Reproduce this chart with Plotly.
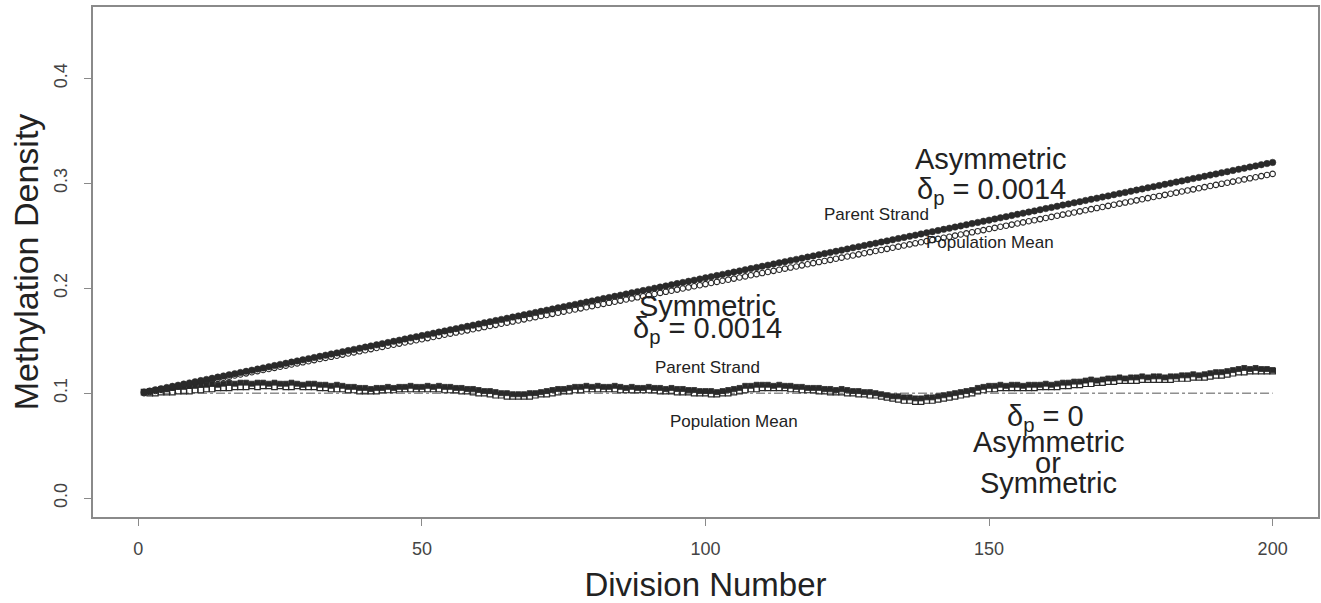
import plotly.graph_objects as go

divisions = list(range(1, 201))

# Asymmetric / symmetric delta_p = 0.0014 : parent strand (filled circles)
asym_parent = [
    0.1010, 0.1021, 0.1032, 0.1043, 0.1054, 0.1065, 0.1076, 0.1087, 0.1098, 0.1109,
    0.1120, 0.1131, 0.1142, 0.1153, 0.1164, 0.1175, 0.1186, 0.1197, 0.1208, 0.1219,
    0.1230, 0.1241, 0.1252, 0.1263, 0.1274, 0.1285, 0.1296, 0.1307, 0.1318, 0.1329,
    0.1340, 0.1351, 0.1362, 0.1373, 0.1384, 0.1395, 0.1406, 0.1417, 0.1428, 0.1439,
    0.1450, 0.1461, 0.1472, 0.1483, 0.1494, 0.1505, 0.1516, 0.1527, 0.1538, 0.1549,
    0.1560, 0.1571, 0.1582, 0.1593, 0.1604, 0.1615, 0.1626, 0.1637, 0.1648, 0.1659,
    0.1670, 0.1681, 0.1692, 0.1703, 0.1714, 0.1725, 0.1736, 0.1747, 0.1758, 0.1769,
    0.1780, 0.1791, 0.1802, 0.1813, 0.1824, 0.1835, 0.1846, 0.1857, 0.1868, 0.1879,
    0.1890, 0.1901, 0.1912, 0.1923, 0.1934, 0.1945, 0.1956, 0.1967, 0.1978, 0.1989,
    0.2000, 0.2011, 0.2022, 0.2033, 0.2044, 0.2055, 0.2066, 0.2077, 0.2088, 0.2099,
    0.2110, 0.2121, 0.2132, 0.2143, 0.2154, 0.2165, 0.2176, 0.2187, 0.2198, 0.2209,
    0.2220, 0.2231, 0.2242, 0.2253, 0.2264, 0.2275, 0.2286, 0.2297, 0.2308, 0.2319,
    0.2330, 0.2341, 0.2352, 0.2363, 0.2374, 0.2385, 0.2396, 0.2407, 0.2418, 0.2429,
    0.2440, 0.2451, 0.2462, 0.2473, 0.2484, 0.2495, 0.2506, 0.2517, 0.2528, 0.2539,
    0.2550, 0.2561, 0.2572, 0.2583, 0.2594, 0.2605, 0.2616, 0.2627, 0.2638, 0.2649,
    0.2660, 0.2671, 0.2682, 0.2693, 0.2704, 0.2715, 0.2726, 0.2737, 0.2748, 0.2759,
    0.2770, 0.2781, 0.2792, 0.2803, 0.2814, 0.2825, 0.2836, 0.2847, 0.2858, 0.2869,
    0.2880, 0.2891, 0.2902, 0.2913, 0.2924, 0.2935, 0.2946, 0.2957, 0.2968, 0.2979,
    0.2990, 0.3001, 0.3012, 0.3023, 0.3034, 0.3045, 0.3056, 0.3067, 0.3078, 0.3089,
    0.3100, 0.3111, 0.3122, 0.3133, 0.3144, 0.3155, 0.3166, 0.3177, 0.3188, 0.3199,
]

# delta_p = 0.0014 : population mean (open circles)
asym_mean = [
    0.10000, 0.10105, 0.10210, 0.10315, 0.10420, 0.10525, 0.10630, 0.10735, 0.10840, 0.10945,
    0.11050, 0.11155, 0.11260, 0.11365, 0.11470, 0.11575, 0.11680, 0.11785, 0.11890, 0.11995,
    0.12100, 0.12205, 0.12310, 0.12415, 0.12520, 0.12625, 0.12730, 0.12835, 0.12940, 0.13045,
    0.13150, 0.13255, 0.13360, 0.13465, 0.13570, 0.13675, 0.13780, 0.13885, 0.13990, 0.14095,
    0.14200, 0.14305, 0.14410, 0.14515, 0.14620, 0.14725, 0.14830, 0.14935, 0.15040, 0.15145,
    0.15250, 0.15355, 0.15460, 0.15565, 0.15670, 0.15775, 0.15880, 0.15985, 0.16090, 0.16195,
    0.16300, 0.16405, 0.16510, 0.16615, 0.16720, 0.16825, 0.16930, 0.17035, 0.17140, 0.17245,
    0.17350, 0.17455, 0.17560, 0.17665, 0.17770, 0.17875, 0.17980, 0.18085, 0.18190, 0.18295,
    0.18400, 0.18505, 0.18610, 0.18715, 0.18820, 0.18925, 0.19030, 0.19135, 0.19240, 0.19345,
    0.19450, 0.19555, 0.19660, 0.19765, 0.19870, 0.19975, 0.20080, 0.20185, 0.20290, 0.20395,
    0.20500, 0.20605, 0.20710, 0.20815, 0.20920, 0.21025, 0.21130, 0.21235, 0.21340, 0.21445,
    0.21550, 0.21655, 0.21760, 0.21865, 0.21970, 0.22075, 0.22180, 0.22285, 0.22390, 0.22495,
    0.22600, 0.22705, 0.22810, 0.22915, 0.23020, 0.23125, 0.23230, 0.23335, 0.23440, 0.23545,
    0.23650, 0.23755, 0.23860, 0.23965, 0.24070, 0.24175, 0.24280, 0.24385, 0.24490, 0.24595,
    0.24700, 0.24805, 0.24910, 0.25015, 0.25120, 0.25225, 0.25330, 0.25435, 0.25540, 0.25645,
    0.25750, 0.25855, 0.25960, 0.26065, 0.26170, 0.26275, 0.26380, 0.26485, 0.26590, 0.26695,
    0.26800, 0.26905, 0.27010, 0.27115, 0.27220, 0.27325, 0.27430, 0.27535, 0.27640, 0.27745,
    0.27850, 0.27955, 0.28060, 0.28165, 0.28270, 0.28375, 0.28480, 0.28585, 0.28690, 0.28795,
    0.28900, 0.29005, 0.29110, 0.29215, 0.29320, 0.29425, 0.29530, 0.29635, 0.29740, 0.29845,
    0.29950, 0.30055, 0.30160, 0.30265, 0.30370, 0.30475, 0.30580, 0.30685, 0.30790, 0.30895,
]

# delta_p = 0 : parent strand (filled squares)
zero_parent = [
    0.101, 0.102, 0.103, 0.104, 0.104, 0.105, 0.106, 0.106, 0.107, 0.107,
    0.108, 0.108, 0.109, 0.108, 0.109, 0.110, 0.109, 0.110, 0.110, 0.109,
    0.110, 0.110, 0.109, 0.110, 0.109, 0.109, 0.110, 0.109, 0.108, 0.109,
    0.109, 0.108, 0.108, 0.107, 0.108, 0.107, 0.106, 0.106, 0.105, 0.105,
    0.104, 0.105, 0.105, 0.106, 0.105, 0.106, 0.106, 0.107, 0.106, 0.106,
    0.107, 0.106, 0.107, 0.106, 0.106, 0.105, 0.105, 0.104, 0.104, 0.103,
    0.102, 0.102, 0.101, 0.100, 0.100, 0.099, 0.099, 0.099, 0.100, 0.100,
    0.101, 0.102, 0.103, 0.104, 0.104, 0.105, 0.106, 0.106, 0.107, 0.106,
    0.107, 0.106, 0.106, 0.107, 0.106, 0.105, 0.106, 0.105, 0.105, 0.106,
    0.105, 0.105, 0.104, 0.105, 0.104, 0.104, 0.103, 0.103, 0.102, 0.102,
    0.102, 0.101, 0.102, 0.103, 0.104, 0.105, 0.107, 0.107, 0.108, 0.108,
    0.108, 0.107, 0.108, 0.107, 0.107, 0.106, 0.106, 0.105, 0.105, 0.105,
    0.104, 0.104, 0.103, 0.104, 0.103, 0.102, 0.102, 0.101, 0.101, 0.100,
    0.099, 0.098, 0.097, 0.097, 0.096, 0.096, 0.095, 0.095, 0.096, 0.096,
    0.097, 0.098, 0.099, 0.100, 0.101, 0.102, 0.103, 0.105, 0.106, 0.107,
    0.107, 0.108, 0.107, 0.108, 0.108, 0.107, 0.108, 0.108, 0.108, 0.109,
    0.108, 0.109, 0.110, 0.110, 0.111, 0.111, 0.112, 0.113, 0.112, 0.113,
    0.114, 0.114, 0.115, 0.114, 0.115, 0.115, 0.116, 0.115, 0.116, 0.116,
    0.115, 0.116, 0.116, 0.117, 0.117, 0.118, 0.117, 0.118, 0.119, 0.120,
    0.120, 0.121, 0.122, 0.123, 0.124, 0.123, 0.124, 0.123, 0.123, 0.122,
]

# delta_p = 0 : population mean (open squares)
zero_mean = [
    0.101, 0.100, 0.100, 0.101, 0.101, 0.101, 0.102, 0.102, 0.102, 0.103,
    0.103, 0.104, 0.104, 0.105, 0.105, 0.105, 0.106, 0.106, 0.106, 0.107,
    0.106, 0.107, 0.107, 0.106, 0.107, 0.106, 0.106, 0.107, 0.106, 0.106,
    0.106, 0.105, 0.105, 0.104, 0.104, 0.104, 0.103, 0.103, 0.102, 0.102,
    0.102, 0.102, 0.103, 0.103, 0.103, 0.104, 0.104, 0.104, 0.104, 0.104,
    0.104, 0.104, 0.104, 0.103, 0.103, 0.103, 0.102, 0.102, 0.101, 0.100,
    0.100, 0.099, 0.098, 0.098, 0.097, 0.097, 0.097, 0.097, 0.097, 0.098,
    0.099, 0.099, 0.100, 0.101, 0.102, 0.102, 0.103, 0.103, 0.104, 0.104,
    0.104, 0.104, 0.104, 0.104, 0.103, 0.103, 0.103, 0.103, 0.103, 0.103,
    0.103, 0.102, 0.102, 0.102, 0.101, 0.101, 0.101, 0.100, 0.100, 0.100,
    0.099, 0.099, 0.100, 0.100, 0.101, 0.102, 0.103, 0.104, 0.104, 0.105,
    0.105, 0.105, 0.105, 0.105, 0.104, 0.104, 0.103, 0.103, 0.103, 0.102,
    0.102, 0.101, 0.101, 0.101, 0.100, 0.100, 0.099, 0.099, 0.098, 0.098,
    0.097, 0.096, 0.095, 0.094, 0.093, 0.093, 0.092, 0.092, 0.093, 0.093,
    0.094, 0.095, 0.096, 0.097, 0.098, 0.099, 0.100, 0.102, 0.103, 0.104,
    0.104, 0.105, 0.105, 0.105, 0.105, 0.105, 0.105, 0.105, 0.106, 0.106,
    0.106, 0.106, 0.107, 0.107, 0.108, 0.108, 0.109, 0.109, 0.110, 0.110,
    0.111, 0.111, 0.112, 0.112, 0.112, 0.112, 0.113, 0.113, 0.113, 0.113,
    0.113, 0.113, 0.114, 0.114, 0.114, 0.115, 0.115, 0.115, 0.116, 0.117,
    0.117, 0.118, 0.119, 0.120, 0.120, 0.121, 0.121, 0.121, 0.121, 0.121,
]

baseline_x = [1, 200]
baseline_y = [0.1, 0.1]

x_ticks = [0, 50, 100, 150, 200]
y_ticks = [0.0, 0.1, 0.2, 0.3, 0.4]

DARK = "#2a2a2a"
FONT = "Liberation Sans, Arial, sans-serif"

fig = go.Figure()

fig.add_trace(go.Scatter(
    x=baseline_x, y=baseline_y, mode="lines",
    line=dict(color="#555555", width=1, dash="dashdot"),
    hoverinfo="skip", showlegend=False))

fig.add_trace(go.Scatter(
    x=divisions, y=zero_parent, mode="markers",
    marker=dict(symbol="square", size=5, color=DARK,
                line=dict(color=DARK, width=0.8)),
    showlegend=False, name="Parent Strand, δp=0"))

fig.add_trace(go.Scatter(
    x=divisions, y=zero_mean, mode="markers",
    marker=dict(symbol="square-open", size=5.5, color=DARK,
                line=dict(color=DARK, width=1.2)),
    showlegend=False, name="Population Mean, δp=0"))

fig.add_trace(go.Scatter(
    x=divisions, y=asym_mean, mode="markers",
    marker=dict(symbol="circle-open", size=5.5, color=DARK,
                line=dict(color=DARK, width=1.1)),
    showlegend=False, name="Population Mean, δp=0.0014"))

fig.add_trace(go.Scatter(
    x=divisions, y=asym_parent, mode="markers",
    marker=dict(symbol="circle", size=6.5, color=DARK,
                line=dict(color=DARK, width=0.5)),
    showlegend=False, name="Parent Strand, δp=0.0014"))

big = dict(family=FONT, size=29, color="#222222")
small = dict(family=FONT, size=17, color="#222222")

annos = [
    (150.2, 0.323, "Asymmetric", big),
    (150.4, 0.293, "δ<sub>p</sub> = 0.0014", big),
    (130.2, 0.270, "Parent Strand", small),
    (150.2, 0.244, "Population Mean", small),
    (100.3, 0.183, "Symmetric", big),
    (100.3, 0.160, "δ<sub>p</sub> = 0.0014", big),
    (100.3, 0.1247, "Parent Strand", small),
    (105.0, 0.073, "Population Mean", small),
    (160.0, 0.0765, "δ<sub>p</sub> = 0", big),
    (160.4, 0.053, "Asymmetric", big),
    (160.4, 0.033, "or", big),
    (160.4, 0.014, "Symmetric", big),
]
for ax_, ay_, txt, f in annos:
    fig.add_annotation(x=ax_, y=ay_, text=txt, showarrow=False, font=f,
                       xanchor="center", yanchor="middle")

axis_common = dict(
    showgrid=False, zeroline=False, showline=True, mirror=True,
    linecolor="#8a8a8a", linewidth=1.5,
    ticks="outside", ticklen=7, tickwidth=1.2, tickcolor="#8a8a8a",
    tickfont=dict(family=FONT, size=18, color="#444444"),
)

fig.update_layout(
    width=1321, height=603,
    margin=dict(l=93, r=1, t=7, b=86),
    paper_bgcolor="white", plot_bgcolor="white",
    showlegend=False,
    xaxis=dict(range=[-8, 208], tickvals=x_ticks,
               ticktext=[str(v) for v in x_ticks],
               ticklabelstandoff=8,
               title=dict(text="Division Number", standoff=17,
                          font=dict(family=FONT, size=33, color="#222222")),
               **axis_common),
    yaxis=dict(range=[-0.018, 0.468], tickvals=y_ticks,
               ticktext=[f"{v:.1f}" for v in y_ticks], tickangle=-90,
               ticklabelstandoff=10,
               title=dict(text="Methylation Density", standoff=2,
                          font=dict(family=FONT, size=34, color="#222222")),
               **axis_common),
)

fig.write_html("out.html", config={"displayModeBar": False},
               post_script="document.body.style.margin='0';")
